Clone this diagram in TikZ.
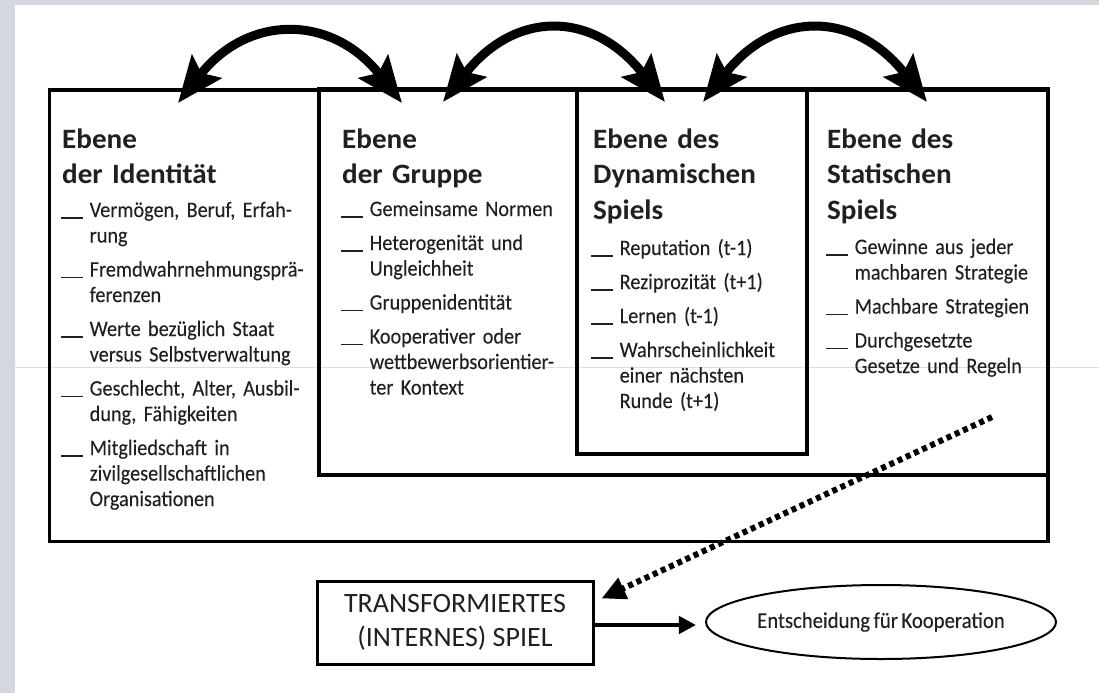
\documentclass[tikz,border=0pt]{standalone}
\usepackage{fontspec}
\setmainfont{Carlito}
\newfontfamily\bodyfont{Carlito}[FakeStretch=0.92,WordSpace=0.75,FakeBold=0.1]
\newfontfamily\headfont{Carlito}[FakeStretch=1.04,WordSpace=0.85]
\usetikzlibrary{arrows.meta,shapes.geometric}
\definecolor{frame}{RGB}{211,215,222}
\definecolor{ink}{RGB}{35,31,32}
\definecolor{scanline}{RGB}{222,222,222}
\newcommand\itm[1]{\parskip=8.5pt\relax\hangindent=28.5pt\hangafter=1\noindent\makebox[28.5pt][l]{\rule[-1.8pt]{21.5pt}{1.5pt}}#1\par}
\tikzset{
  lvlbox/.style={draw=black, line width=3.2pt, inner sep=0pt, rectangle},
  headtxt/.style={anchor=base west, inner sep=0pt, text width=260pt, align=left, text=ink,
    font=\headfont\fontsize{28}{35.5}\selectfont\bfseries},
  itemtxt/.style={anchor=base west, inner sep=0pt, text width=300pt, align=left, text=ink,
    font=\bodyfont\fontsize{22}{25.5}\selectfont},
  bigarr/.style={line width=9pt,
    {Stealth[length=46pt,width=37pt,inset=8pt]}-{Stealth[length=46pt,width=37pt,inset=8pt]}},
  dotarr/.style={line width=6pt, dash pattern=on 5pt off 4pt, -{Triangle[length=24pt,width=22pt]}},
  solidarr/.style={line width=4.5pt, -{Triangle[length=17pt,width=17pt]}},
}
\begin{document}
\begin{tikzpicture}[x=1pt,y=-1pt]
\useasboundingbox (0,0) rectangle (1099,693);
\fill[white] (0,0) rectangle (1099,693);
\fill[frame] (0,0) rectangle (15,693);
\fill[frame] (0,0) rectangle (1099,5);
\draw[scanline, line width=0.8pt] (15,367) -- (1099,367);

% boxes
\node[lvlbox, minimum width=998.5pt, minimum height=451.5pt] (ident) at (548.75,315.75) {};
\node[lvlbox, minimum width=729pt, minimum height=386pt] (grp) at (683.5,282) {};
\node[lvlbox, minimum width=230pt, minimum height=365pt] (dyn) at (692,271.5) {};

% headings
\node[headtxt] (h1) at (62,148) {Ebene\newline der Identität};
\node[headtxt] (h2) at (342,148) {Ebene\newline der Gruppe};
\node[headtxt] (h3) at (593,148) {Ebene des\newline Dynamischen\newline Spiels};
\node[headtxt] (h4) at (827,148) {Ebene des\newline Statischen\newline Spiels};

% items
\node[itemtxt] (i1) at (61,217) {%
\itm{Vermögen, Beruf, Erfah-\newline rung}
\itm{Fremdwahrnehmungsprä-\newline ferenzen}
\itm{Werte bezüglich Staat\newline versus Selbstverwaltung}
\itm{Geschlecht, Alter, Ausbil-\newline dung, Fähigkeiten}
\itm{Mitgliedschaft in\newline zivilgesellschaftlichen\newline Organisationen}};
\node[itemtxt] (i2) at (341,216) {%
\itm{Gemeinsame Normen}
\itm{Heterogenität und\newline Ungleichheit}
\itm{Gruppenidentität}
\itm{Kooperativer oder\newline wettbewerbsorientier-\newline ter Kontext}};
\node[itemtxt] (i3) at (591,255) {%
\itm{Reputation (t-1)}
\itm{Reziprozität (t+1)}
\itm{Lernen (t-1)}
\itm{Wahrscheinlichkeit\newline einer nächsten\newline Runde (t+1)}};
\node[itemtxt] (i4) at (826,254) {%
\itm{Gewinne aus jeder\newline machbaren Strategie}
\itm{Machbare Strategien}
\itm{Durchgesetzte\newline Gesetze und Regeln}};

% lower nodes
\node[draw=black, line width=3pt, minimum width=276pt, minimum height=83pt, inner sep=0pt,
  align=center, text=ink, font=\fontsize{28}{34}\selectfont] (trans) at (455,622.5)
  {TRANSFORMIERTES\\(INTERNES) SPIEL};
\node[ellipse, draw=black, line width=2pt, minimum width=284pt, minimum height=74pt, inner sep=0pt,
  text=ink, font=\bodyfont\fontsize{22.5}{25}\selectfont] (ell) at (881,622) {Entscheidung für Kooperation};

% top arrows
\coordinate (a1s) at (178,103); \coordinate (a1e) at (402,103);
\coordinate (a2s) at (443,102); \coordinate (a2e) at (665,102);
\coordinate (a3s) at (703,102); \coordinate (a3e) at (927,102);
\draw[bigarr] (a1s) .. controls +(70,-89) and +(-70,-89) .. (a1e);
\draw[bigarr] (a2s) .. controls +(72,-92) and +(-72,-92) .. (a2e);
\draw[bigarr] (a3s) .. controls +(72,-92) and +(-72,-92) .. (a3e);

% dotted arrow
\coordinate (dstart) at (992,417);
\draw[dotarr] (dstart) -- ([xshift=7pt,yshift=-19pt]trans.north east);

% solid arrow
\draw[solidarr] ([yshift=-2.5pt]trans.east) -- ([yshift=-3pt,xshift=-9pt]ell.west);
\end{tikzpicture}
\end{document}
